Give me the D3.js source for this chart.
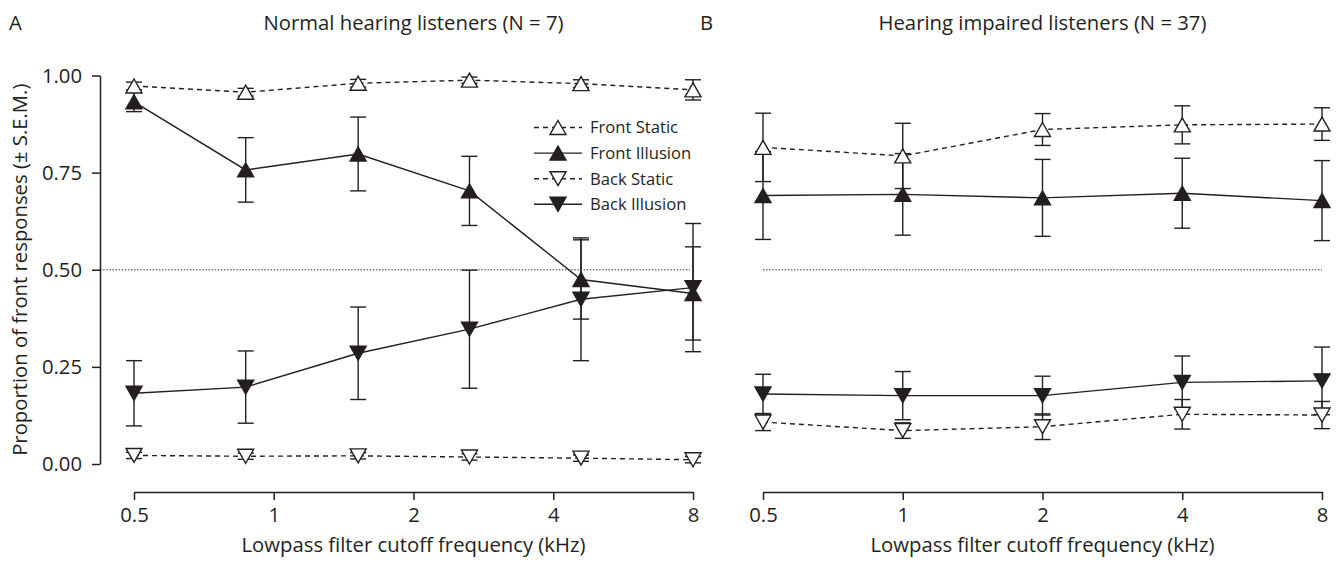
<!DOCTYPE html>
<html>
<head>
<meta charset="utf-8">
<script src="https://cdn.jsdelivr.net/npm/d3@7"></script>
<style>
  html, body { margin: 0; padding: 0; background: #fff; }
  svg { display: block; }
  text { font-family: "Open Sans", "Noto Sans", sans-serif; fill: #231f20; }
</style>
</head>
<body>
<svg id="chart" width="1344" height="561"></svg>
<script>
// Lowpass filter cutoff frequencies (kHz)
const freqNormal = [0.5, 0.87, 1.52, 2.64, 4.59, 8];
const freqImpaired = [0.5, 1, 2, 4, 8];
const xTickValues = [0.5, 1, 2, 4, 8];
const yTickValues = [0, 0.25, 0.5, 0.75, 1];

// Normal hearing listeners (N = 7): proportion of front responses and S.E.M.
const normalFrontStatic = [0.973, 0.957, 0.980, 0.988, 0.979, 0.963];
const normalFrontStaticSem = [0.010, 0.010, 0.010, 0.008, 0.010, 0.026];
const normalFrontIllusion = [0.932, 0.757, 0.798, 0.703, 0.475, 0.439];
const normalFrontIllusionSem = [0.025, 0.083, 0.095, 0.089, 0.102, 0.120];
const normalBackStatic = [0.022, 0.020, 0.021, 0.018, 0.015, 0.011];
const normalBackStaticSem = [0.008, 0.008, 0.008, 0.008, 0.008, 0.008];
const normalBackIllusion = [0.182, 0.198, 0.285, 0.347, 0.424, 0.454];
const normalBackIllusionSem = [0.084, 0.093, 0.119, 0.152, 0.158, 0.165];

// Hearing impaired listeners (N = 37)
const impairedFrontStatic = [0.815, 0.793, 0.861, 0.873, 0.875];
const impairedFrontStaticSem = [0.088, 0.084, 0.041, 0.049, 0.042];
const impairedFrontIllusion = [0.691, 0.694, 0.685, 0.697, 0.678];
const impairedFrontIllusionSem = [0.113, 0.105, 0.099, 0.090, 0.103];
const impairedBackStatic = [0.108, 0.086, 0.096, 0.128, 0.126];
const impairedBackStaticSem = [0.022, 0.020, 0.033, 0.038, 0.035];
const impairedBackIllusion = [0.180, 0.176, 0.176, 0.210, 0.214];
const impairedBackIllusionSem = [0.051, 0.062, 0.050, 0.068, 0.087];

const seriesNames = ["Front Static", "Front Illusion", "Back Static", "Back Illusion"];
const panelTitles = ["Normal hearing listeners (N = 7)", "Hearing impaired listeners (N = 37)"];
const panelLetters = ["A", "B"];
const xAxisTitle = "Lowpass filter cutoff frequency (kHz)";
const yAxisTitle = "Proportion of front responses (\u00B1 S.E.M.)";

const INK = "#231f20";
const FONT = 20.3;
const LEGEND_FONT = 16.6;

// Series styling: direction of triangle, filled or open, dashed or solid
const seriesStyle = [
  { up: true,  filled: false, dashed: true },
  { up: true,  filled: true,  dashed: false },
  { up: false, filled: false, dashed: true },
  { up: false, filled: true,  dashed: false }
];

function buildSeries(freqs, values, sems) {
  return values.map((vals, s) => ({
    name: seriesNames[s],
    style: seriesStyle[s],
    points: freqs.map((f, i) => ({ f, v: vals[i], e: sems[s][i] }))
  }));
}

const panels = [
  {
    letter: panelLetters[0], title: panelTitles[0], showY: true, range: [134, 693], legend: true,
    series: buildSeries(freqNormal,
      [normalFrontStatic, normalFrontIllusion, normalBackStatic, normalBackIllusion],
      [normalFrontStaticSem, normalFrontIllusionSem, normalBackStaticSem, normalBackIllusionSem])
  },
  {
    letter: panelLetters[1], title: panelTitles[1], showY: false, range: [763, 1322], legend: false,
    series: buildSeries(freqImpaired,
      [impairedFrontStatic, impairedFrontIllusion, impairedBackStatic, impairedBackIllusion],
      [impairedFrontStaticSem, impairedFrontIllusionSem, impairedBackStaticSem, impairedBackIllusionSem])
  }
];

const svg = d3.select("#chart");
const y = d3.scaleLinear().domain([0, 1]).range([464, 75.5]);
const xAxisY = 492;

// Triangle marker centred on its bounding box
const TW = 16, TH = 14;
function triPath(up) {
  const h = TH / 2, w = TW / 2;
  return up
    ? `M0,${-h}L${w},${h}L${-w},${h}Z`
    : `M0,${h}L${w},${-h}L${-w},${-h}Z`;
}

function drawMarker(g, x0, y0, style) {
  g.append("path")
    .attr("d", triPath(style.up))
    .attr("transform", `translate(${x0},${y0})`)
    .attr("fill", style.filled ? INK : "#fff")
    .attr("stroke", INK)
    .attr("stroke-width", 1.4)
    .attr("stroke-linejoin", "miter");
}

panels.forEach(p => {
  const x = d3.scaleLog().base(2).domain([0.5, 8]).range(p.range);
  const g = svg.append("g");
  const mid = (p.range[0] + p.range[1]) / 2;

  // Panel letter and title
  g.append("text").attr("x", p.showY ? 9 : 700).attr("y", 30)
    .attr("font-size", FONT).text(p.letter);
  g.append("text").attr("x", mid).attr("y", 30).attr("text-anchor", "middle")
    .attr("font-size", FONT).text(p.title);

  // Chance level reference
  const refX0 = p.showY ? 100 : p.range[0];
  const refX1 = p.showY ? p.range[1] - 3 : p.range[1];
  g.append("line")
    .attr("x1", refX0).attr("x2", refX1)
    .attr("y1", y(0.5)).attr("y2", y(0.5))
    .attr("stroke", "#7a7a7a").attr("stroke-width", 1.4)
    .attr("stroke-dasharray", "1.5,1.6");

  // X axis
  const xAxis = d3.axisBottom(x).tickValues(xTickValues)
    .tickFormat(d => d3.format("")(d)).tickSize(8).tickSizeOuter(0).tickPadding(8);
  const gx = g.append("g").attr("transform", `translate(0,${xAxisY})`).call(xAxis);
  gx.select(".domain").attr("stroke", INK).attr("stroke-width", 1.5);
  gx.selectAll(".tick line").attr("stroke", INK).attr("stroke-width", 1.5);
  gx.selectAll(".tick text").attr("font-size", FONT).attr("font-family", null).attr("fill", INK);

  g.append("text").attr("x", mid).attr("y", 552).attr("text-anchor", "middle")
    .attr("font-size", FONT).text(xAxisTitle);

  // Y axis (left panel only)
  if (p.showY) {
    const yAxis = d3.axisLeft(y).tickValues(yTickValues)
      .tickFormat(d3.format(".2f")).tickSize(8).tickSizeOuter(0).tickPadding(10);
    const gy = g.append("g").attr("transform", "translate(100,0)").call(yAxis);
    gy.select(".domain").attr("stroke", INK).attr("stroke-width", 1.5);
    gy.selectAll(".tick line").attr("stroke", INK).attr("stroke-width", 1.5);
    gy.selectAll(".tick text").attr("font-size", FONT).attr("font-family", null).attr("fill", INK);

    g.append("text")
      .attr("transform", `translate(27,${(y(0) + y(1)) / 2}) rotate(-90)`)
      .attr("text-anchor", "middle")
      .attr("font-size", FONT).text(yAxisTitle);
  }

  // Connecting lines
  const line = d3.line().x(d => x(d.f)).y(d => y(d.v));
  p.series.forEach(s => {
    g.append("path").datum(s.points)
      .attr("d", line)
      .attr("fill", "none").attr("stroke", INK).attr("stroke-width", 1.4)
      .attr("stroke-dasharray", s.style.dashed ? "5,4" : null);
  });

  // Error bars (± S.E.M.)
  const capW = 8;
  p.series.forEach(s => {
    s.points.forEach(d => {
      const cx = x(d.f), top = y(d.v + d.e), bot = y(d.v - d.e);
      const eg = g.append("g").attr("stroke", INK).attr("stroke-width", 1.4);
      eg.append("line").attr("x1", cx).attr("x2", cx).attr("y1", top).attr("y2", bot);
      eg.append("line").attr("x1", cx - capW).attr("x2", cx + capW).attr("y1", top).attr("y2", top);
      eg.append("line").attr("x1", cx - capW).attr("x2", cx + capW).attr("y1", bot).attr("y2", bot);
    });
  });

  // Markers
  p.series.forEach(s => {
    s.points.forEach(d => drawMarker(g, x(d.f), y(d.v), s.style));
  });

  // Legend
  if (p.legend) {
    const lx0 = 534, lx1 = 582, ly0 = 127.5, step = 25.6;
    seriesNames.forEach((name, i) => {
      const st = seriesStyle[i];
      const ly = ly0 + i * step;
      g.append("line").attr("x1", lx0).attr("x2", lx1).attr("y1", ly).attr("y2", ly)
        .attr("stroke", INK).attr("stroke-width", 1.4)
        .attr("stroke-dasharray", st.dashed ? "5,4" : null);
      drawMarker(g, (lx0 + lx1) / 2, ly, st);
      g.append("text").attr("x", 590).attr("y", ly).attr("dy", "0.35em")
        .attr("font-size", LEGEND_FONT).text(name);
    });
  }
});
</script>
</body>
</html>
